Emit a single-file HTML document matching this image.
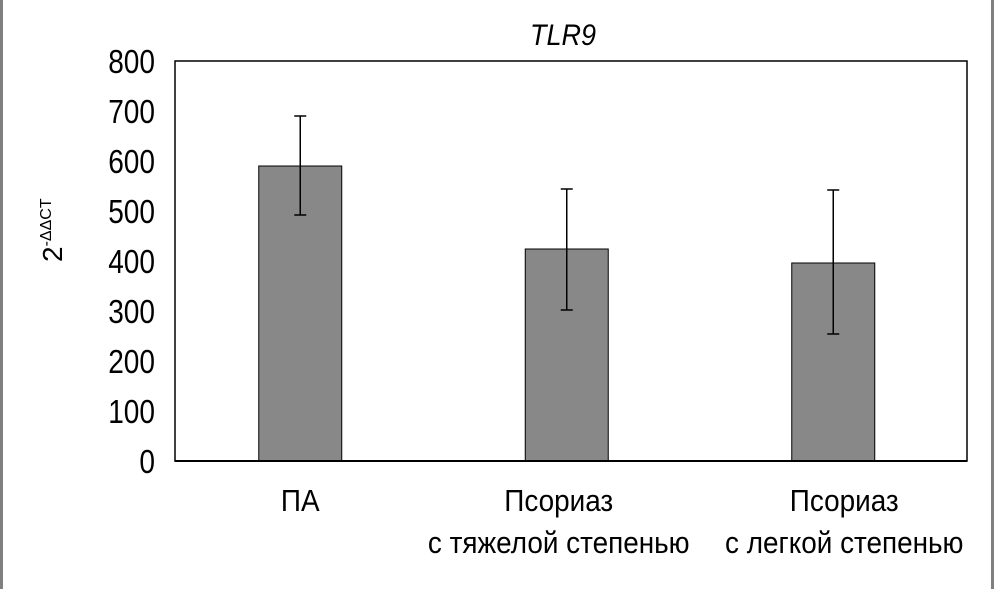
<!DOCTYPE html>
<html><head><meta charset="utf-8"><style>
html,body{margin:0;padding:0;background:#fff;}
svg{display:block;font-family:"Liberation Sans",sans-serif;}
</style></head><body>
<svg id="chart" width="995" height="589" viewBox="0 0 995 589">
<rect x="1.5" y="-2" width="991" height="593" fill="#fff" stroke="#808080" stroke-width="3"/>
<text transform="translate(563,45) scale(0.9,1)" font-size="30" font-style="italic" text-anchor="middle">TLR9</text>
<text transform="translate(62,262) rotate(-90)" font-size="28">2<tspan font-size="16" dy="-11">-ΔΔCT</tspan></text>
<g id="plot"></g>
</svg>
<script>
const categories = [["ПА"], ["Псориаз", "с тяжелой степенью"], ["Псориаз", "с легкой степенью"]];
const values = [590, 424, 396];
const errHigh = [690, 544, 542];
const errLow = [492, 302, 254];
const yTicks = [0, 100, 200, 300, 400, 500, 600, 700, 800];

const L = 175, R = 967, T = 61, B = 461, yMax = 800;
const y = v => B - v / yMax * (B - T);
const band = 266.5, x0 = 167, barW = 83;
const xc = i => x0 + (i + 0.5) * band;
const labelShift = [0, -8, 11];
const NS = "http://www.w3.org/2000/svg";
const g = document.getElementById("plot");
function mk(tag, attrs, parent) {
  const e = document.createElementNS(NS, tag);
  for (const k in attrs) e.setAttribute(k, attrs[k]);
  (parent || g).appendChild(e);
  return e;
}
const area = mk("rect", {x: L, y: T, width: R - L, height: B - T, fill: "#fff", stroke: "#000", "stroke-width": 1.5});


yTicks.forEach(t => {
  const tx = mk("text", {transform: `translate(155,${y(t) + 12}) scale(0.85,1)`, "font-size": 33, "text-anchor": "end"});
  tx.textContent = t;
  
  
});
values.forEach((v, i) => {
  const cx = xc(i);
  const b = mk("rect", {x: cx - barW / 2, y: y(v), width: barW, height: B - y(v), fill: "#888", stroke: "#000", "stroke-width": 1});
  
  
  const e = mk("path", {d: `M${cx},${y(errHigh[i])}V${y(errLow[i])}M${cx-6},${y(errHigh[i])}H${cx+6}M${cx-6},${y(errLow[i])}H${cx+6}`, stroke: "#000", "stroke-width": 1.5, fill: "none"});
  
  
  categories[i].forEach((line, j) => {
    const lx = cx + labelShift[i];
    const tx = mk("text", {transform: `translate(${lx},${511 + j * 42}) scale(0.9,1)`, "font-size": 31, "text-anchor": "middle"});
    tx.textContent = line;
    
    
  });
});
const ax = mk("line", {x1: L, y1: B, x2: R, y2: B, stroke: "#000", "stroke-width": 2});


</script>
</body></html>
